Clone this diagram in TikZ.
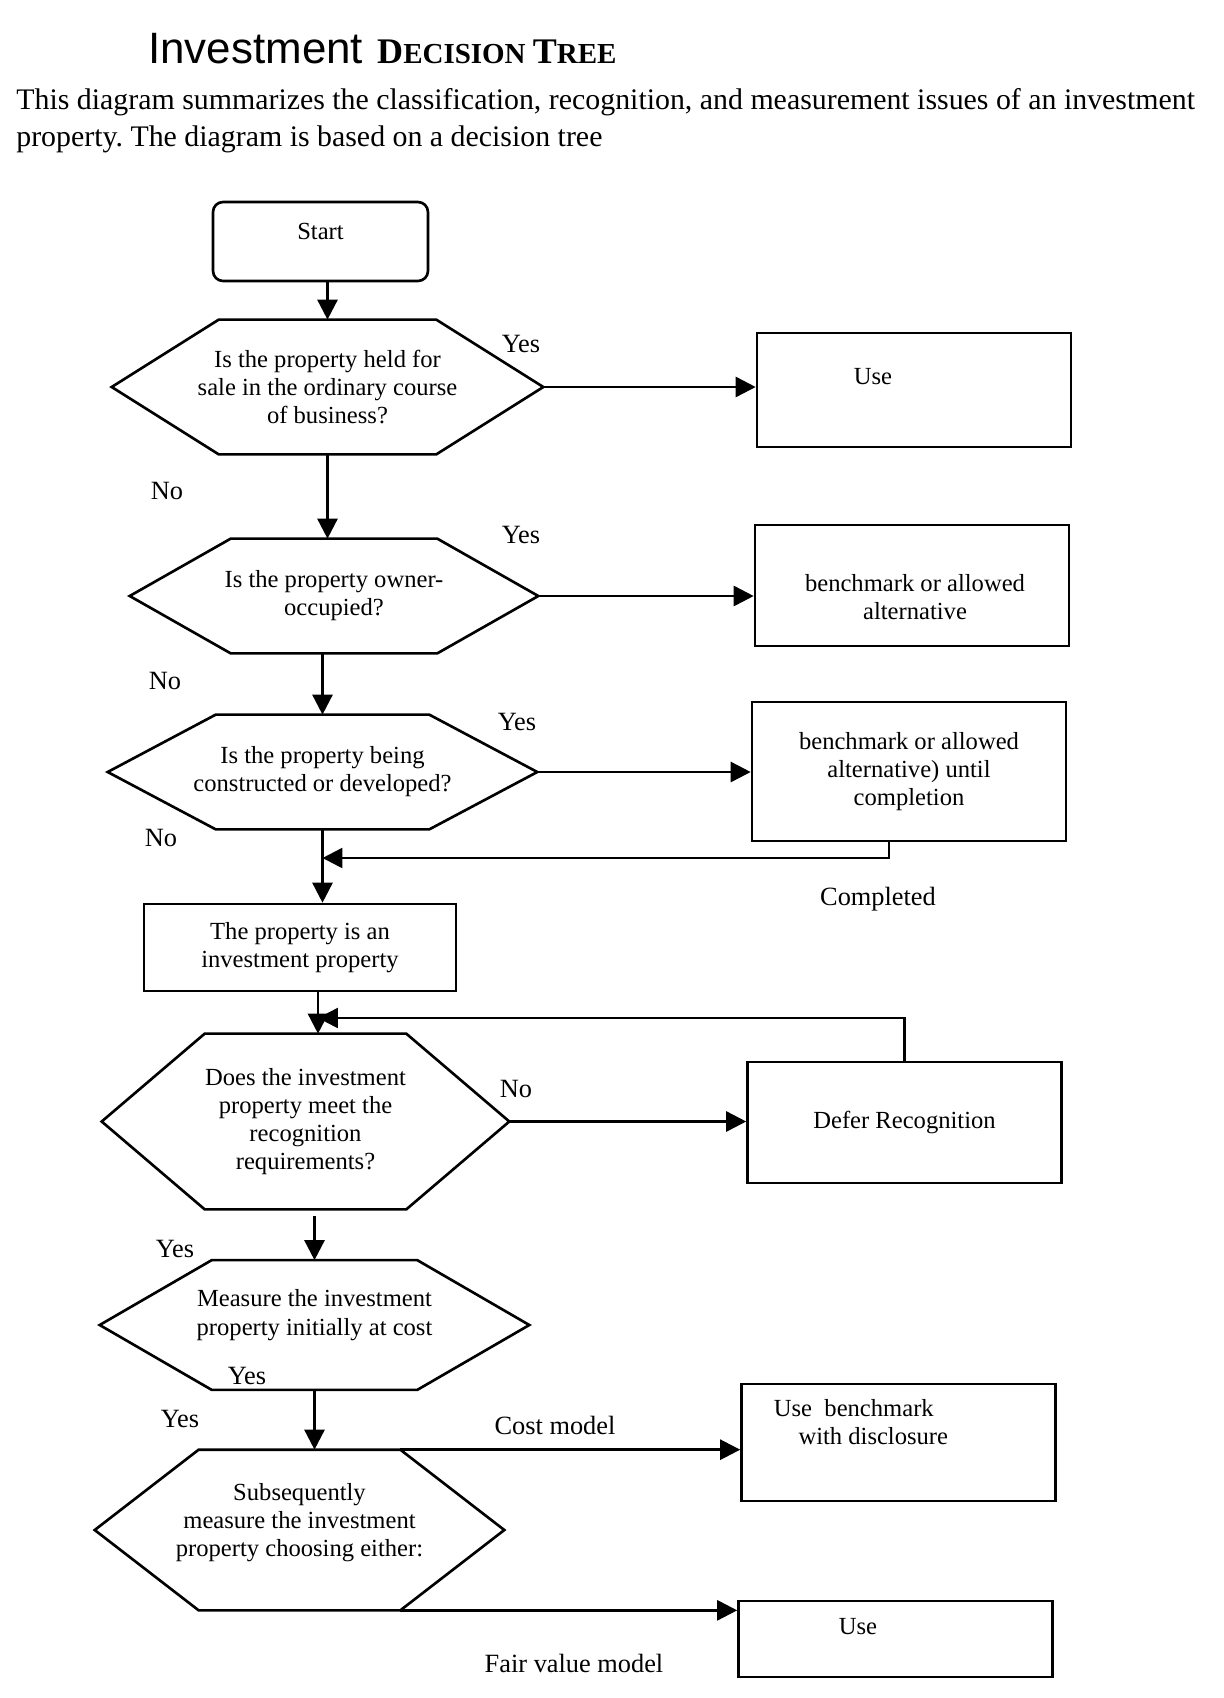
\documentclass[tikz,border=0pt]{standalone}
\usepackage{fontspec}
\setmainfont{Liberation Serif}
\newfontfamily\headsans{Liberation Sans}
\usetikzlibrary{arrows.meta,calc}
\newcommand{\hexframe}[2]{\draw[line width=1.5pt] (#1.west) -- ([xshift=#2]#1.north west) -- ([xshift=-#2]#1.north east) -- (#1.east) -- ([xshift=-#2]#1.south east) -- ([xshift=#2]#1.south west) -- cycle;}
\frenchspacing

\begin{document}
\begin{tikzpicture}[x=0.02cm, y=-0.02cm, >={Triangle[length=0.4cm, width=0.4cm]},
    boxtxt/.style={font=\fontsize{14}{16}\selectfont, align=center},
    box/.style={draw, line width=1.5pt, boxtxt, minimum width=6.28cm},
    hexq/.style={boxtxt, inner sep=0pt},
    lbl/.style={font=\fontsize{15}{18}\selectfont},
    flow/.style={->, line width=1.5pt}]
    \fill[white] (0,0) rectangle (1224,1698);
    \useasboundingbox (0,0) rectangle (1224,1698);

    % heading
    \node[anchor=base west, inner sep=0] (title) at (148,63) {{\headsans\fontsize{25}{29}\selectfont Investment}\hspace{8pt}\textbf{\fontsize{20.5}{24}\selectfont D\fontsize{16.5}{20}\selectfont ECISION \fontsize{20.5}{24}\selectfont T\fontsize{16.5}{20}\selectfont REE}};
    \node[anchor=west, align=left, inner sep=0, font=\fontsize{17}{21}\selectfont] (intro) at (16,121) {This diagram summarizes the classification, recognition, and measurement issues of an investment\\property. The diagram is based on a decision tree};

    % decisions
    \node[draw, line width=1.5pt, rounded corners=0.2cm, boxtxt, minimum width=4.3cm, minimum height=1.58cm, text depth=0.4cm] (start) at (320.5,241.5) {Start};
    \node[hexq, minimum width=8.62cm, minimum height=2.68cm] (q1) at (327.5,387) {Is the property held for\\sale in the ordinary course\\of business?};
    \node[hexq, minimum width=8.16cm, minimum height=2.28cm] (q2) at (334,596) {Is the property owner-\\occupied?};
    \node[hexq, minimum width=8.58cm, minimum height=2.28cm] (q3) at (322.5,772) {Is the property being\\constructed or developed?};
    \node[box, minimum width=6.24cm, minimum height=1.74cm] (inv) at (300,947.5) {The property is an\\investment property};
    \node[hexq, minimum width=8.14cm, minimum height=3.5cm] (q4) at (305.5,1121.5) {Does the investment\\property meet the\\recognition\\requirements?};
    \node[hexq, minimum width=8.58cm, minimum height=2.58cm, text depth=0.5cm] (q5) at (314.5,1325) {Measure the investment\\property initially at cost};
    \node[hexq, minimum width=8.18cm, minimum height=3.2cm, text depth=0.4cm] (q6) at (299.5,1530) {Subsequently\\measure the investment\\property choosing either:};
    \hexframe{q1}{2.14cm}
    \hexframe{q2}{2.02cm}
    \hexframe{q3}{2.16cm}
    \hexframe{q4}{2.06cm}
    \hexframe{q5}{2.24cm}
    \hexframe{q6}{2.08cm}

    % outcomes
    \node[box, minimum height=2.28cm, label={[boxtxt, xshift=-0.82cm, yshift=0.26cm]center:Use}] (use1) at (914,390) {};
    \node[box, minimum height=2.42cm, label={[boxtxt, xshift=0.06cm, yshift=-0.24cm]center:benchmark or allowed\\alternative}] (alt1) at (912,585.5) {};
    \node[box, minimum height=2.78cm] (alt2) at (909,771.5) {benchmark or allowed\\alternative) until\\completion};
    \node[box, minimum height=2.42cm] (defer) at (904.5,1122.5) {Defer Recognition};
    \node[box, minimum height=2.34cm, label={[boxtxt, align=left, xshift=-0.75cm, yshift=0.4cm]center:Use\ \ benchmark\\\hspace*{1em}with disclosure}] (bm) at (898.5,1442.5) {};
    \node[box, minimum height=1.52cm, label={[boxtxt, xshift=-0.75cm, yshift=0.24cm]center:Use}] (use6) at (895.5,1639) {};

    % main stem
    \coordinate (stem) at (318,1018);
    \coordinate (done) at (889,858);
    \coordinate (q6ne) at ([xshift=-2.08cm]q6.north east);
    \coordinate (q6se) at ([xshift=-2.08cm]q6.south east);
    \draw[flow] (start.south -| q1.north) -- (q1.north);
    \draw[flow] (q1.south) -- (q1.south |- q2.north);
    \draw[flow] (q2.south -| q3.north) -- (q3.north);
    \draw[flow] (q3.south) -- (q3.south |- inv.north);
    \draw[flow] (inv.south -| stem) -- (q4.north -| stem);
    \draw[flow, shorten <=0.14cm] (q4.south -| q5.north) -- (q5.north);
    \draw[flow] (q5.south) -- (q5.south |- q6.north);

    % branches
    \draw[flow] (q1.east) -- (q1.east -| use1.west);
    \draw[flow] (q2.east) -- (q2.east -| alt1.west);
    \draw[flow] (q3.east) -- (q3.east -| alt2.west);
    \draw[flow] (q4.east) -- (q4.east -| defer.west);
    \draw[flow] (q6ne) -- (q6ne -| bm.west);
    \draw[flow] (q6se) -- (q6se -| use6.west);
    \draw[flow] (done |- alt2.south) -- (done) -- (done -| q3.south);
    \draw[flow] (defer.north) |- (stem);

    % labels
    \node[lbl] (y1) at (521,344) {Yes};
    \node[lbl] (y2) at (521,535) {Yes};
    \node[lbl] (y3) at (517,722) {Yes};
    \node[lbl] (n1) at (167,491) {No};
    \node[lbl] (n2) at (165,681) {No};
    \node[lbl] (n3) at (161,838) {No};
    \node[lbl] (cmp) at (878,899) {Completed};
    \node[lbl] (n4) at (516,1089) {No};
    \node[lbl] (y4) at (175,1249) {Yes};
    \node[lbl] (y5) at (247,1376) {Yes};
    \node[lbl] (y6) at (180,1419) {Yes};
    \node[lbl] (cm) at (555,1425) {Cost model};
    \node[lbl] (fv) at (574,1663) {Fair value model};
\end{tikzpicture}
\end{document}
